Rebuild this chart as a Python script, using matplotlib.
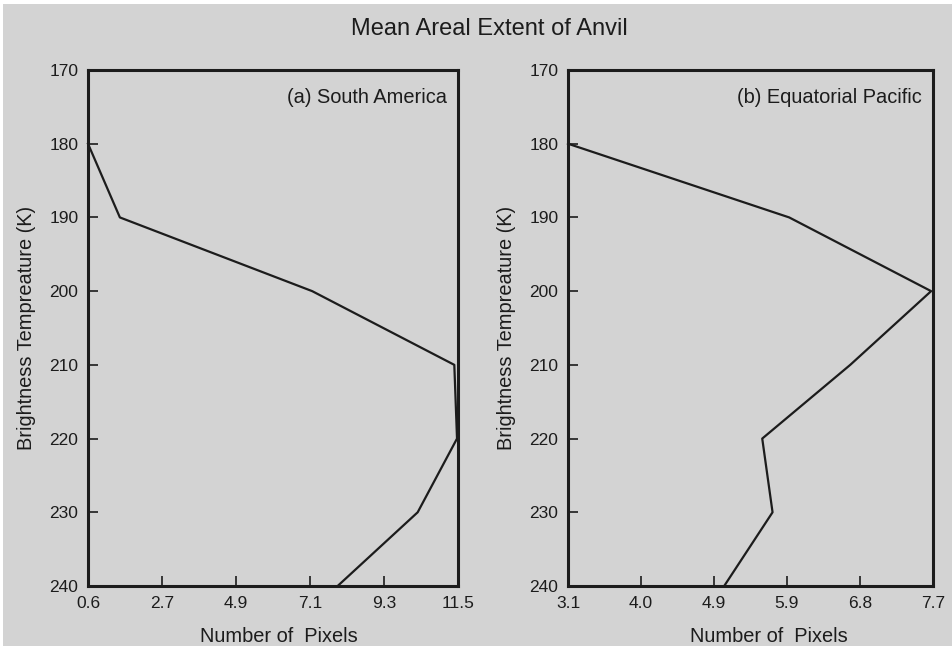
import matplotlib
matplotlib.use("Agg")
import matplotlib.pyplot as plt
from matplotlib.patches import Rectangle

plt.rcParams['font.family'] = ['Liberation Sans', 'DejaVu Sans']

# Brightness temperature levels (K)
temperature = [180, 190, 200, 210, 220, 230, 240]

# Mean number of anvil pixels at each level
south_america = [0.6, 1.54, 7.21, 11.40, 11.48, 10.32, 7.96]
equatorial_pacific = [3.1, 5.89, 7.68, 6.66, 5.55, 5.68, 5.07]

sa_xlim = (0.6, 11.5)
sa_xticklabels = ["0.6", "2.7", "4.9", "7.1", "9.3", "11.5"]
ep_xlim = (3.1, 7.7)
ep_xticklabels = ["3.1", "4.0", "4.9", "5.9", "6.8", "7.7"]

yticks = [170, 180, 190, 200, 210, 220, 230, 240]

panel_titles = ["(a) South America", "(b) Equatorial Pacific"]
title = "Mean Areal Extent of Anvil"
xlabel = "Number of  Pixels"
ylabel = "Brightness Tempreature (K)"

bg = "#d3d3d3"
ink = "#1c1c1c"

fig = plt.figure(figsize=(9.53, 6.46), dpi=100, facecolor="white")
fig.patches.append(Rectangle((3 / 953, 0), 1, 1 - 4 / 646, transform=fig.transFigure,
                             facecolor=bg, edgecolor="none", zorder=-10))

W, H = 953, 646
panels = [
    dict(rect=(88, 70, 457.7, 586), x=south_america, xlim=sa_xlim,
         labels=sa_xticklabels, name=panel_titles[0], xl=0.517),
    dict(rect=(568, 70, 932.7, 586), x=equatorial_pacific, xlim=ep_xlim,
         labels=ep_xticklabels, name=panel_titles[1], xl=0.55),
]

for p in panels:
    x0, y0, x1, y1 = p["rect"]
    ax = fig.add_axes([x0 / W, 1 - y1 / H, (x1 - x0) / W, (y1 - y0) / H])
    ax.set_facecolor(bg)
    ax.plot(p["x"], temperature, color=ink, lw=1.6, clip_on=False, zorder=3)
    ax.set_xlim(*p["xlim"])
    ax.set_ylim(240, 170)
    lo, hi = p["xlim"]
    ax.set_xticks([lo + (hi - lo) * i / 5 for i in range(6)])
    ax.set_xticklabels(p["labels"])
    ax.set_yticks(yticks)
    ax.set_yticklabels([str(t) for t in yticks])
    ax.tick_params(direction="in", length=7, width=1.2, color=ink,
                   labelsize=12.5, labelcolor=ink, pad=7,
                   top=False, right=False)
    for s in ax.spines.values():
        s.set_linewidth(2.2)
        s.set_color(ink)
    ax.set_xlabel(xlabel, fontsize=14.4, color=ink)
    ax.set_ylabel(ylabel, fontsize=14.4, color=ink)
    ax.xaxis.set_label_coords(p["xl"], -0.08)
    ax.yaxis.set_label_coords(-52 / (x1 - x0), 0.5)
    ax.text(0.97, 0.965, p["name"], transform=ax.transAxes, ha="right", va="top",
            fontsize=14.4, color=ink)

fig.text(489 / W, 1 - 29 / H, title, ha="center", va="center", fontsize=17, color=ink)

fig.savefig("out.png", dpi=100, facecolor=fig.get_facecolor())
